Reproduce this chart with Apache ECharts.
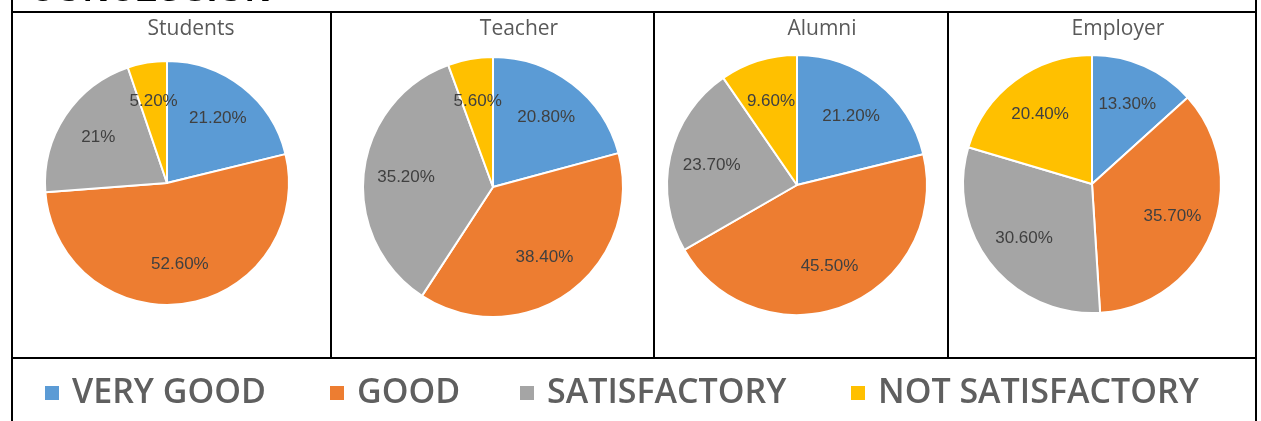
<!DOCTYPE html>
<html>
<head>
<meta charset="utf-8">
<script src="https://cdn.jsdelivr.net/npm/echarts@6/dist/echarts.min.js"></script>
<style>
    html, body {
        margin: 0;
        padding: 0;
        background: #fff;
    }
    .main {
        width: 1261px;
        height: 421px;
    }
</style>
</head>
<body>
<div id="main" class="main"></div>
<script>
    var categories = ['VERY GOOD', 'GOOD', 'SATISFACTORY', 'NOT SATISFACTORY'];
    var groups = ['Students', 'Teacher', 'Alumni', 'Employer'];

    var studentsValues = [21.2, 52.6, 21, 5.2];
    var teacherValues = [20.8, 38.4, 35.2, 5.6];
    var alumniValues = [21.2, 45.5, 23.7, 9.6];
    var employerValues = [13.3, 35.7, 30.6, 20.4];

    var studentsLabels = ['21.20%', '52.60%', '21%', '5.20%'];
    var teacherLabels = ['20.80%', '38.40%', '35.20%', '5.60%'];
    var alumniLabels = ['21.20%', '45.50%', '23.70%', '9.60%'];
    var employerLabels = ['13.30%', '35.70%', '30.60%', '20.40%'];

    var allValues = [studentsValues, teacherValues, alumniValues, employerValues];
    var allLabels = [studentsLabels, teacherLabels, alumniLabels, employerLabels];

    var color = ['#5B9BD5', '#ED7D31', '#A5A5A5', '#FFC000'];

    // where each pie sits in its table cell
    var pieLayout = [
        {center: [167, 183], r: 122, titleX: 191},
        {center: [493, 187], r: 130, titleX: 519},
        {center: [797, 185], r: 130, titleX: 822},
        {center: [1092, 184], r: 129, titleX: 1118}
    ];
    var legendX = [43, 328, 518, 849];

    var myChart = echarts.init(document.getElementById('main'));

    var series = [];
    var titles = [];
    for (var i = 0; i < groups.length; i++) {
        var data = [];
        for (var j = 0; j < categories.length; j++) {
            data.push({name: categories[j], value: allValues[i][j]});
        }
        series.push({
            name: groups[i],
            type: 'pie',
            center: pieLayout[i].center,
            radius: [0, pieLayout[i].r],
            startAngle: 90,
            clockwise: true,
            animation: false,
            silent: true,
            label: {show: false},
            labelLine: {show: false},
            itemStyle: {
                borderColor: '#fff',
                borderWidth: 2
            },
            data: data
        });
        titles.push({
            text: groups[i],
            left: pieLayout[i].titleX,
            top: 19,
            textAlign: 'center',
            padding: 0,
            textStyle: {
                fontFamily: 'Open Sans',
                fontWeight: 'normal',
                fontSize: 21,
                color: '#595959'
            }
        });
    }

    // a second, invisible pie per chart only to place the labels further out (Excel style)
    for (var k = 0; k < groups.length; k++) {
        var labelData = [];
        for (var m = 0; m < categories.length; m++) {
            labelData.push({name: categories[m], value: allValues[k][m], label: {formatter: allLabels[k][m]}});
        }
        series.push({
            name: groups[k] + ' labels',
            type: 'pie',
            center: pieLayout[k].center,
            radius: [0, pieLayout[k].r * 1.3],
            startAngle: 90,
            animation: false,
            silent: true,
            avoidLabelOverlap: false,
            itemStyle: {color: 'rgba(0,0,0,0)'},
            label: {
                show: true,
                position: 'inside',
                fontFamily: 'Liberation Sans',
                fontSize: 17,
                color: '#404040'
            },
            labelLine: {show: false},
            data: labelData
        });
    }

    var legends = [];
    for (var n = 0; n < categories.length; n++) {
        legends.push({
            data: [categories[n]],
            left: legendX[n],
            top: 376,
            padding: 0,
            icon: 'rect',
            itemWidth: 16,
            itemHeight: 16,
            itemGap: 0,
            selectedMode: false,
            textStyle: {
                fontFamily: 'Open Sans',
                fontWeight: 600,
                fontSize: 34,
                color: '#5f5f5f',
                padding: [0, 0, 0, 7]
            }
        });
    }

    var lineStyle = {stroke: '#000', lineWidth: 2};
    var option = {
        backgroundColor: '#fff',
        color: color,
        title: titles,
        legend: legends,
        series: series,
        graphic: [
            {
                type: 'text', left: 29, top: -27, silent: true,
                style: {text: 'CONCLUSION', fontFamily: 'Liberation Sans', fontWeight: 'bold', fontSize: 36, fill: '#000'}
            },
            {type: 'line', silent: true, shape: {x1: 12, y1: 12, x2: 1256, y2: 12}, style: lineStyle},
            {type: 'line', silent: true, shape: {x1: 12, y1: 0, x2: 12, y2: 421}, style: lineStyle},
            {type: 'line', silent: true, shape: {x1: 1256, y1: 0, x2: 1256, y2: 421}, style: lineStyle},
            {type: 'line', silent: true, shape: {x1: 12, y1: 358, x2: 1256, y2: 358}, style: lineStyle},
            {type: 'line', silent: true, shape: {x1: 331, y1: 12, x2: 331, y2: 358}, style: lineStyle},
            {type: 'line', silent: true, shape: {x1: 654, y1: 12, x2: 654, y2: 358}, style: lineStyle},
            {type: 'line', silent: true, shape: {x1: 948, y1: 12, x2: 948, y2: 358}, style: lineStyle}
        ]
    };
    myChart.setOption(option);
</script>
</body>
</html>
